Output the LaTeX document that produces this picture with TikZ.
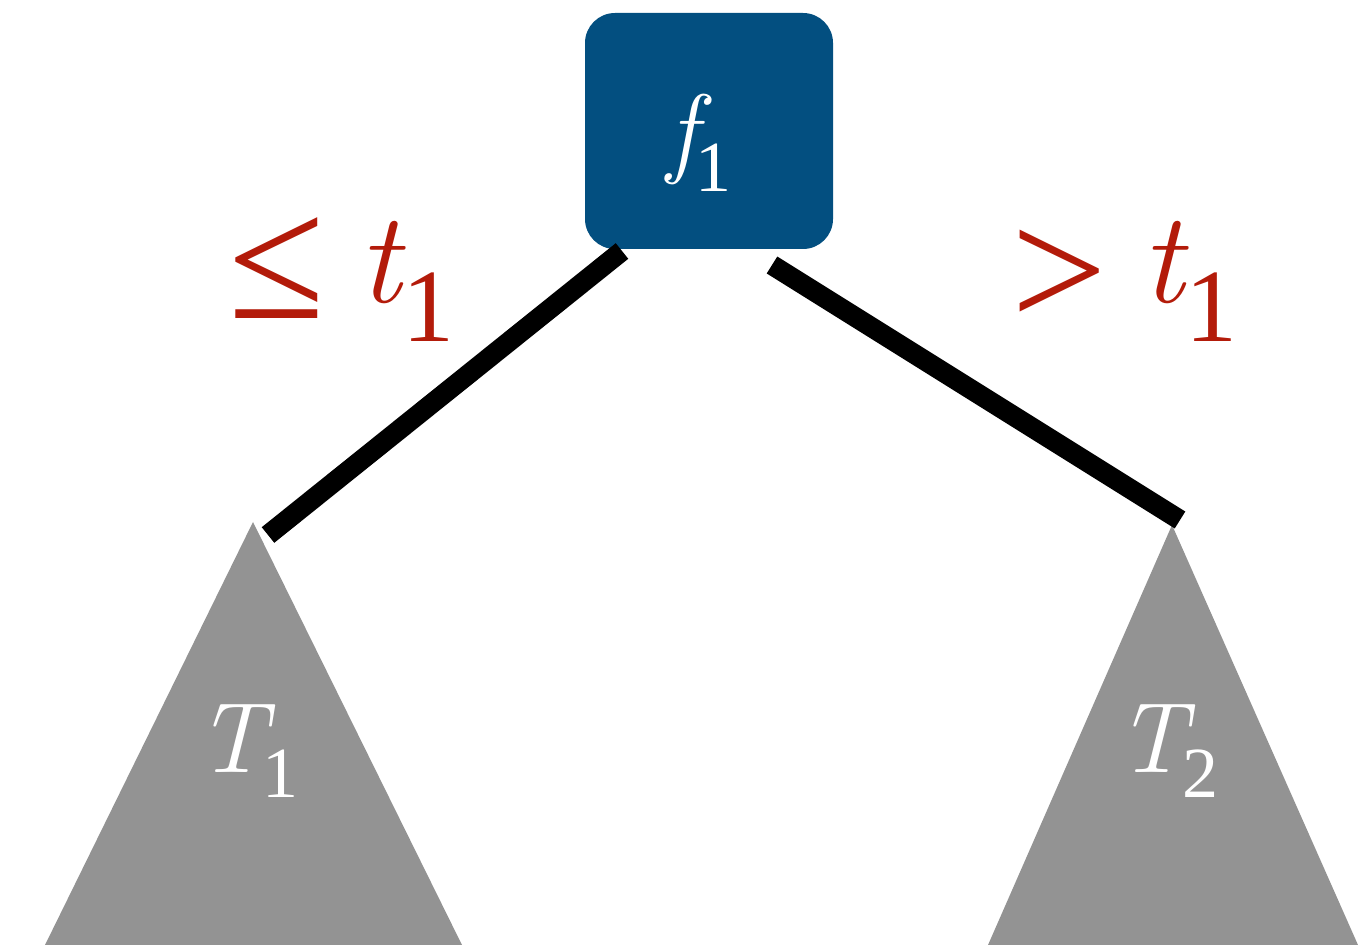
\documentclass[tikz,border=0pt]{standalone}
\usepackage{fontspec}
\setmainfont{Liberation Serif}
\newfontfamily\lmfont{Latin Modern Roman}
\definecolor{nodeblue}{HTML}{034F80}
\definecolor{condred}{HTML}{B31B0A}
\definecolor{treegray}{HTML}{939393}
\newcommand{\sub}[3]{\raisebox{-#3}{\fontsize{#1}{#1}\selectfont #2}}
\newcommand{\vlet}[1]{{\lmfont\itshape #1}}
\begin{document}
\begin{tikzpicture}[x=0.5pt,y=-0.5pt,
  edge/.style={line width=10pt, black},
  tree/.style={fill=treegray},
  lbl/.style={anchor=base west, inner sep=0pt, outer sep=0pt},
  cond/.style={lbl, text=condred},
  white lbl/.style={lbl, text=white}]
\useasboundingbox (0,0) rectangle (1358,945);
% subtrees
\coordinate (a1) at (253,522);
\coordinate (a2) at (1172,525);
\fill[tree] (a1) -- (462,945) -- (45,945) -- cycle;
\fill[tree] (a2) -- (1358,945) -- (988,945) -- cycle;
% root
\node[rectangle, rounded corners=15pt, fill=nodeblue, minimum width=124pt, minimum height=118pt, inner sep=0pt] (root) at (709,131) {};
% edges
\coordinate (e1s) at (622,251);
\coordinate (e1t) at (268,535);
\coordinate (e2s) at (772,265);
\coordinate (e2t) at (1180,520);
\draw[edge] (e1s) -- (e1t);
\draw[edge] (e2s) -- (e2t);
% labels
\node[white lbl] (f1) at (667,165) {\fontsize{50pt}{50pt}\selectfont\vlet{f}\kern-1pt\sub{36pt}{1}{13.5pt}};
\node[white lbl] (t1lbl) at (196,772) {\fontsize{50pt}{50pt}\selectfont\vlet{T}\kern-2pt\sub{36pt}{1}{12.5pt}};
\node[white lbl] (t2lbl) at (1116,772) {\fontsize{50pt}{50pt}\selectfont\vlet{T}\kern-2pt\sub{36pt}{2}{12.5pt}};
\node[cond] (le) at (228,319) {\fontsize{88pt}{88pt}\selectfont ≤};
\node[cond] (lt) at (358,303) {\fontsize{65pt}{65pt}\selectfont\vlet{t}\kern1pt\sub{52pt}{1}{19.5pt}};
\node[cond] (gt) at (1011,328) {\fontsize{85pt}{85pt}\selectfont >};
\node[cond] (gtt) at (1141,303) {\fontsize{65pt}{65pt}\selectfont\vlet{t}\kern1pt\sub{52pt}{1}{19.5pt}};
\end{tikzpicture}
\end{document}
